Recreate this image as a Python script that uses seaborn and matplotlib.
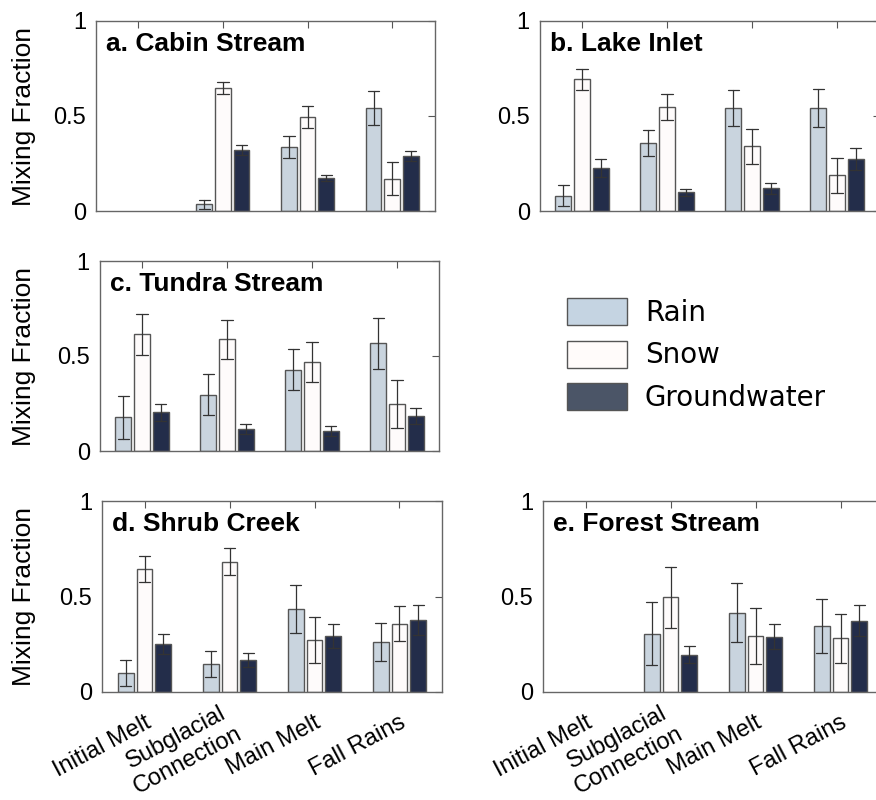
import numpy as np
import pandas as pd
import matplotlib
matplotlib.use("Agg")
import matplotlib.pyplot as plt
from matplotlib.patches import Patch
from matplotlib.transforms import ScaledTranslation
import seaborn as sns

nan = np.nan
periods = ["Initial Melt", "Subglacial\nConnection", "Main Melt", "Fall Rains"]
sources = ["Rain", "Snow", "Groundwater"]

cabin_rain = [nan, 0.035, 0.337, 0.542]
cabin_snow = [nan, 0.647, 0.495, 0.170]
cabin_gw = [nan, 0.319, 0.174, 0.289]
cabin_rain_err = [nan, 0.025, 0.058, 0.092]
cabin_snow_err = [nan, 0.033, 0.057, 0.086]
cabin_gw_err = [nan, 0.026, 0.017, 0.028]

lake_rain = [0.081, 0.356, 0.542, 0.542]
lake_snow = [0.693, 0.549, 0.340, 0.188]
lake_gw = [0.228, 0.098, 0.119, 0.272]
lake_rain_err = [0.054, 0.069, 0.096, 0.100]
lake_snow_err = [0.055, 0.068, 0.091, 0.092]
lake_gw_err = [0.048, 0.020, 0.027, 0.058]

tundra_rain = [0.178, 0.297, 0.428, 0.566]
tundra_snow = [0.615, 0.587, 0.467, 0.248]
tundra_gw = [0.203, 0.115, 0.103, 0.184]
tundra_rain_err = [0.113, 0.107, 0.108, 0.134]
tundra_snow_err = [0.108, 0.104, 0.105, 0.127]
tundra_gw_err = [0.046, 0.027, 0.026, 0.044]

shrub_rain = [0.101, 0.148, 0.433, 0.262]
shrub_snow = [0.646, 0.682, 0.271, 0.358]
shrub_gw = [0.251, 0.168, 0.295, 0.377]
shrub_rain_err = [0.067, 0.069, 0.126, 0.100]
shrub_snow_err = [0.068, 0.071, 0.120, 0.090]
shrub_gw_err = [0.053, 0.035, 0.063, 0.080]

forest_rain = [nan, 0.305, 0.415, 0.346]
forest_snow = [nan, 0.496, 0.295, 0.281]
forest_gw = [nan, 0.195, 0.290, 0.372]
forest_rain_err = [nan, 0.166, 0.154, 0.141]
forest_snow_err = [nan, 0.159, 0.146, 0.127]
forest_gw_err = [nan, 0.044, 0.065, 0.081]

titles = ["a. Cabin Stream", "b. Lake Inlet", "c. Tundra Stream",
          "d. Shrub Creek", "e. Forest Stream"]
ylabel = "Mixing Fraction"
yticks = [0, 0.5, 1]
ytick_labels = ["0", "0.5", "1"]

palette = {"Rain": "#c5d4e2", "Snow": "#fffbfa", "Groundwater": "#1d2a50"}
legend_colors = ["#c5d4e2", "#fffbfa", "#4b5567"]

panels = [
    (cabin_rain, cabin_snow, cabin_gw, cabin_rain_err, cabin_snow_err, cabin_gw_err),
    (lake_rain, lake_snow, lake_gw, lake_rain_err, lake_snow_err, lake_gw_err),
    (tundra_rain, tundra_snow, tundra_gw, tundra_rain_err, tundra_snow_err, tundra_gw_err),
    (shrub_rain, shrub_snow, shrub_gw, shrub_rain_err, shrub_snow_err, shrub_gw_err),
    (forest_rain, forest_snow, forest_gw, forest_rain_err, forest_snow_err, forest_gw_err),
]


def build_frame(vals, errs):
    rows = []
    for src, v_list, e_list in zip(sources, vals, errs):
        for per, v, e in zip(periods, v_list, e_list):
            if np.isnan(v):
                continue
            for s in (-1, 0, 1):
                rows.append({"Period": per, "Source": src, "Value": v + s * e})
    return pd.DataFrame(rows)


sns.set_style("white")
plt.rcParams["font.family"] = ["Liberation Sans", "DejaVu Sans"]
plt.rcParams["text.color"] = "black"
plt.rcParams["axes.labelcolor"] = "black"

W, H = 876, 800
fig = plt.figure(figsize=(W / 100, H / 100), dpi=100)

# axes boxes in pixels: left, right, top, bottom
boxes = [
    (96, 434.5, 21, 211),
    (539.5, 879.5, 21, 211),
    (99.5, 439.5, 261, 451),
    (102, 442, 501, 692),
    (543, 883, 501, 692),
]
ylabel_right_px = 36

for i, (box, data, title) in enumerate(zip(boxes, panels, titles)):
    l, r, t, b = box
    ax = fig.add_axes([l / W, 1 - b / H, (r - l) / W, (b - t) / H])
    df = build_frame(data[:3], data[3:])
    sns.barplot(data=df, x="Period", y="Value", hue="Source",
                order=periods, hue_order=sources, palette=palette,
                estimator="mean", errorbar=lambda x: (x.min(), x.max()),
                width=0.66, gap=0.15, capsize=0.4, legend=False,
                edgecolor="#555555", linewidth=1.0,
                err_kws={"color": "#333333", "linewidth": 0.9}, ax=ax)
    ax.set_xlim(-0.5, 3.5)
    ax.set_ylim(0, 1)
    ax.set_yticks(yticks)
    ax.set_yticklabels(ytick_labels, fontsize=17)
    ax.set_xlabel("")
    if i in (0, 2, 3):
        ax.set_ylabel(ylabel, fontsize=19)
        ax.yaxis.set_label_coords(-(l - ylabel_right_px) / (r - l), 0.5)
    else:
        ax.set_ylabel("")
    ax.set_xticks(range(len(periods)))
    ax.tick_params(axis="both", direction="in", top=True, right=True, length=5,
                   width=0.8, color="#555555", labelcolor="black")
    ax.tick_params(axis="y", pad=7)
    ax.tick_params(axis="x", pad=21)
    if i in (3, 4):
        ax.set_xticklabels(periods, rotation=28, ha="right", va="center",
                           rotation_mode="anchor", multialignment="center",
                           fontsize=17)
        for lab in ax.get_xticklabels():
            lab.set_transform(lab.get_transform() +
                              ScaledTranslation(5 / 100, 0, fig.dpi_scale_trans))
    else:
        ax.set_xticklabels([])
    for sp in ax.spines.values():
        sp.set_visible(True)
        sp.set_color("#666666")
        sp.set_linewidth(1.0)
    ax.text(0.03, 0.88, title, transform=ax.transAxes, fontsize=19,
            fontweight="bold", va="center", ha="left", color="black")

handles = [Patch(facecolor=c, edgecolor="#555555", linewidth=1.0)
           for c in legend_colors]
fig.legend(handles, sources, loc="center left",
           bbox_to_anchor=(567 / W, 1 - 355 / H),
           frameon=False, handlelength=2.15, handleheight=1.12,
           labelspacing=0.5, handletextpad=0.65, borderaxespad=0,
           borderpad=0, prop={"family": "DejaVu Sans", "size": 20})

fig.savefig("out.png", dpi=100, facecolor="white")
